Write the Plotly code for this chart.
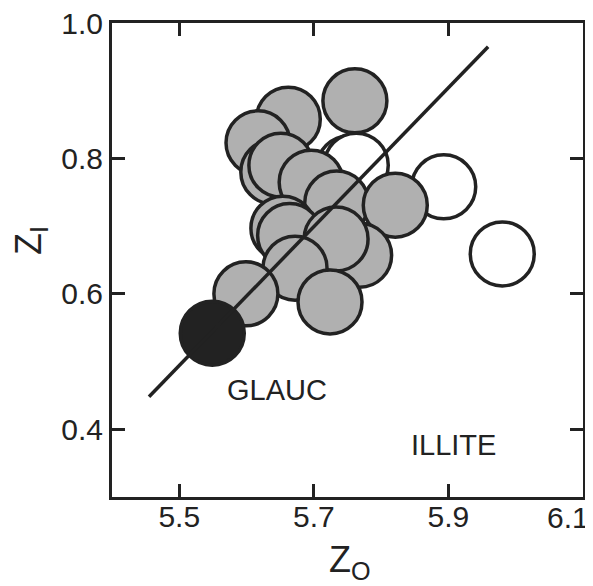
import plotly.graph_objects as go

# Shaded (glauconite) circles: Z_O, Z_I  (drawn in this order)
shaded_zo = [5.761, 5.662, 5.617, 5.639, 5.651, 5.696, 5.734, 5.821, 5.654, 5.664, 5.768, 5.733, 5.672, 5.599, 5.724]
shaded_zi = [0.885, 0.858, 0.823, 0.780, 0.790, 0.765, 0.734, 0.731, 0.697, 0.686, 0.657, 0.681, 0.638, 0.600, 0.588]

# Open (illite) circles
open_zo = [5.752, 5.763, 5.893, 5.980]
open_zi = [0.786, 0.790, 0.758, 0.659]

# Solid black circle
solid_zo = [5.549]
solid_zi = [0.542]

# Trend line end points
line_zo = [5.455, 5.959]
line_zi = [0.448, 0.965]

x_ticks = [5.5, 5.7, 5.9, 6.1]
x_ticktext = ["5.5", "5.7", "5.9", ""]   # last label drawn at the frame edge below
x_edge_label = "6.1"
y_ticks = [0.4, 0.6, 0.8, 1.0]
y_ticktext = ["0.4", "0.6", "0.8", "1.0"]

INK = "#222222"
MSIZE = 64
MLINE = 3.5

fig = go.Figure()
fig.add_trace(go.Scatter(x=open_zo, y=open_zi, mode="markers",
                         marker=dict(size=MSIZE, color="white", line=dict(color=INK, width=MLINE)),
                         hoverinfo="skip"))
fig.add_trace(go.Scatter(x=shaded_zo, y=shaded_zi, mode="markers",
                         marker=dict(size=MSIZE, color="#b0b0b0", line=dict(color=INK, width=MLINE)),
                         hoverinfo="skip"))
fig.add_trace(go.Scatter(x=solid_zo, y=solid_zi, mode="markers",
                         marker=dict(size=MSIZE, color=INK, line=dict(color=INK, width=MLINE)),
                         hoverinfo="skip"))
fig.add_trace(go.Scatter(x=line_zo, y=line_zi, mode="lines",
                         line=dict(color=INK, width=3.5), hoverinfo="skip"))

tickfont = dict(family="Liberation Sans, Arial, sans-serif", size=30, color=INK)
axis_common = dict(ticks="inside", ticklen=13, tickwidth=3, tickcolor=INK,
                   showline=True, linewidth=3, linecolor=INK, mirror="ticks",
                   showgrid=False, zeroline=False, tickfont=tickfont,
                   ticklabeloverflow="allow")

fig.update_xaxes(range=[5.4, 6.1], tickvals=x_ticks, ticktext=x_ticktext,
                 ticklabelstandoff=-9, **axis_common)
fig.update_yaxes(range=[0.3, 1.0], tickvals=y_ticks, ticktext=y_ticktext, **axis_common)

labfont = dict(family="Liberation Sans, Arial, sans-serif", size=29, color=INK)
titlefont = dict(family="Liberation Sans, Arial, sans-serif", size=36, color=INK)
fig.update_layout(
    width=585, height=578,
    margin=dict(l=104, r=10, t=15, b=89, autoexpand=False),
    paper_bgcolor="white", plot_bgcolor="white",
    showlegend=False,
    annotations=[
        dict(x=x_ticks[-1], y=-0.044, xref="x", yref="paper", text=x_edge_label, showarrow=False,
             font=tickfont, xanchor="right", yanchor="middle", xshift=8),
        dict(x=5.645, y=0.458, xref="x", yref="y", text="GLAUC", showarrow=False, font=labfont),
        dict(x=5.907, y=0.377, xref="x", yref="y", text="ILLITE", showarrow=False, font=labfont),
        dict(x=0.505, y=-0.137, xref="paper", yref="paper", text="Z<sub>O</sub>", showarrow=False,
             font=titlefont, xanchor="center", yanchor="middle"),
        dict(x=-0.172, y=0.542, xref="paper", yref="paper", text="Z<sub>I</sub>", showarrow=False,
             font=titlefont, textangle=-90, xanchor="center", yanchor="middle"),
    ],
)

fig.write_html("out.html")
